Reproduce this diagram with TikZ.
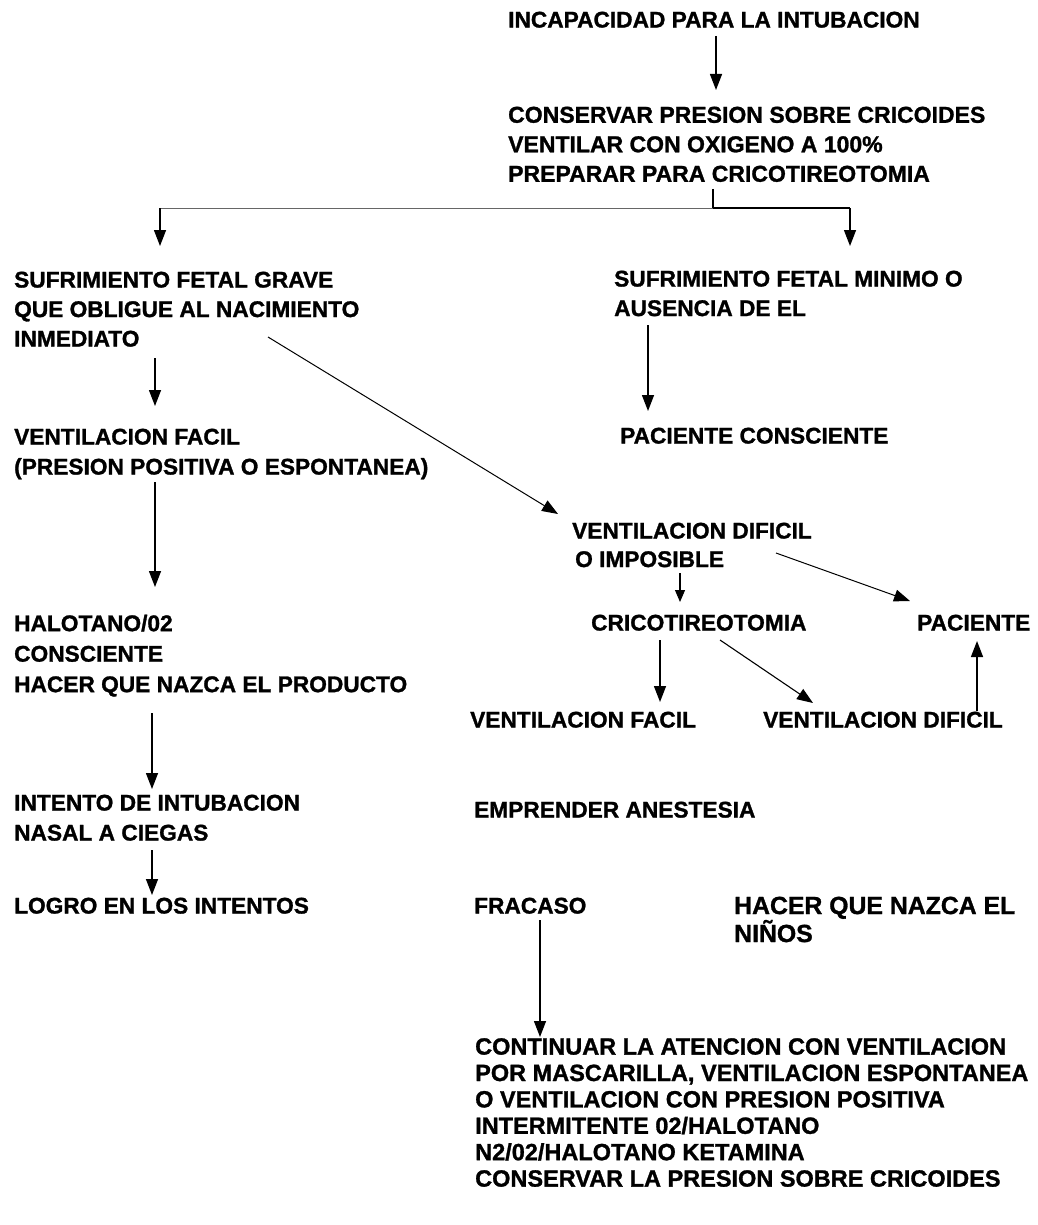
\documentclass[tikz,border=0pt]{standalone}
\usepackage{fontspec}
\setmainfont{Liberation Sans}[BoldFeatures={FakeBold=1.2}]
\usetikzlibrary{arrows.meta}
\begin{document}
\begin{tikzpicture}[x=1pt,y=-1pt,
  lbl/.style={anchor=north west,inner sep=0pt,align=left,
    font=\fontsize{22.7}{29.5}\selectfont\bfseries},
  tight/.style={font=\fontsize{23.5}{26.4}\selectfont\bfseries},
  arr/.style={line width=1.4pt,-{Triangle[length=16pt,width=12pt]}},
  smallarr/.style={line width=1.1pt,-{Triangle[length=12pt,width=10pt]}},
  thin/.style={line width=0.8pt,black!60}]
\useasboundingbox (0,0) rectangle (1037,1225);
% texts
\node[lbl] (incap) at (508,11.5) {INCAPACIDAD PARA LA INTUBACION};
\node[lbl,font=\fontsize{23}{29.5}\selectfont\bfseries] (cons) at (508,106.5) {CONSERVAR PRESION SOBRE CRICOIDES\\VENTILAR CON OXIGENO A 100\%\\PREPARAR PARA CRICOTIREOTOMIA};
\node[lbl] (sfg) at (14,271.5) {SUFRIMIENTO FETAL GRAVE\\QUE OBLIGUE AL NACIMIENTO\\INMEDIATO};
\node[lbl] (sfm) at (614,270.5) {SUFRIMIENTO FETAL MINIMO O\\AUSENCIA DE EL};
\node[lbl,font=\fontsize{22.7}{30}\selectfont\bfseries] (vf) at (14,428.5) {VENTILACION FACIL\\(PRESION POSITIVA O ESPONTANEA)};
\node[lbl] (pc) at (620,427.5) {PACIENTE CONSCIENTE};
\node[lbl,font=\fontsize{22.7}{28.5}\selectfont\bfseries] (vd) at (572,522.5) {VENTILACION DIFICIL\\\hspace*{3pt}O IMPOSIBLE};
\node[lbl] (crico) at (591,614.5) {CRICOTIREOTOMIA};
\node[lbl] (pac) at (917,614.5) {PACIENTE};
\node[lbl,font=\fontsize{22.7}{30.5}\selectfont\bfseries] (halo) at (14,614.5) {HALOTANO/02\\CONSCIENTE\\HACER QUE NAZCA EL PRODUCTO};
\node[lbl] (vfr) at (470,711.5) {VENTILACION FACIL};
\node[lbl] (vdr) at (763,711.5) {VENTILACION DIFICIL};
\node[lbl,font=\fontsize{22.7}{30}\selectfont\bfseries] (intento) at (14,794.5) {INTENTO DE INTUBACION\\NASAL A CIEGAS};
\node[lbl] (empr) at (474,801.5) {EMPRENDER ANESTESIA};
\node[lbl] (logro) at (14,897.5) {LOGRO EN LOS INTENTOS};
\node[lbl] (fracaso) at (474,897.5) {FRACASO};
\node[lbl,font=\fontsize{24.8}{28}\selectfont\bfseries] (hacer) at (734,896.5) {HACER QUE NAZCA EL\\NIÑOS};
\node[lbl,tight] (cont) at (475,1038) {CONTINUAR LA ATENCION CON VENTILACION\\POR MASCARILLA, VENTILACION ESPONTANEA\\O VENTILACION CON PRESION POSITIVA\\INTERMITENTE 02/HALOTANO\\N2/02/HALOTANO KETAMINA\\CONSERVAR LA PRESION SOBRE CRICOIDES};
% connectors
\coordinate (c1) at (716,36);
\coordinate (c2) at (716,90);
\draw[arr] (c1) -- (c2);
\coordinate (br) at (713,189);
\coordinate (brj) at (713,208);
\coordinate (brl) at (160,208);
\coordinate (brr) at (850,208);
\draw[line width=1.3pt] (br) -- (brj) -- (brr);
\draw[thin] (brl) -- (brj);
\draw[arr] (brl) -- (160,246);
\draw[arr] (brr) -- (850,246);
\draw[arr] (155,358) -- (155,406);
\draw[arr] (648,325) -- (648,411);
\draw[arr,line width=1pt] (268,337) -- (558,514);
\draw[arr] (155,482) -- (155,587);
\draw[smallarr] (680,573) -- (680,602);
\draw[arr,line width=1pt] (776,553) -- (910,601);
\draw[arr] (660,640) -- (660,702);
\draw[arr,line width=1.1pt] (720,640) -- (813,703);
\draw[arr] (977,711) -- (977,641);
\draw[arr] (152,713) -- (152,789);
\draw[arr] (152,850) -- (152,895);
\draw[arr] (540,920) -- (540,1037);
\end{tikzpicture}
\end{document}
